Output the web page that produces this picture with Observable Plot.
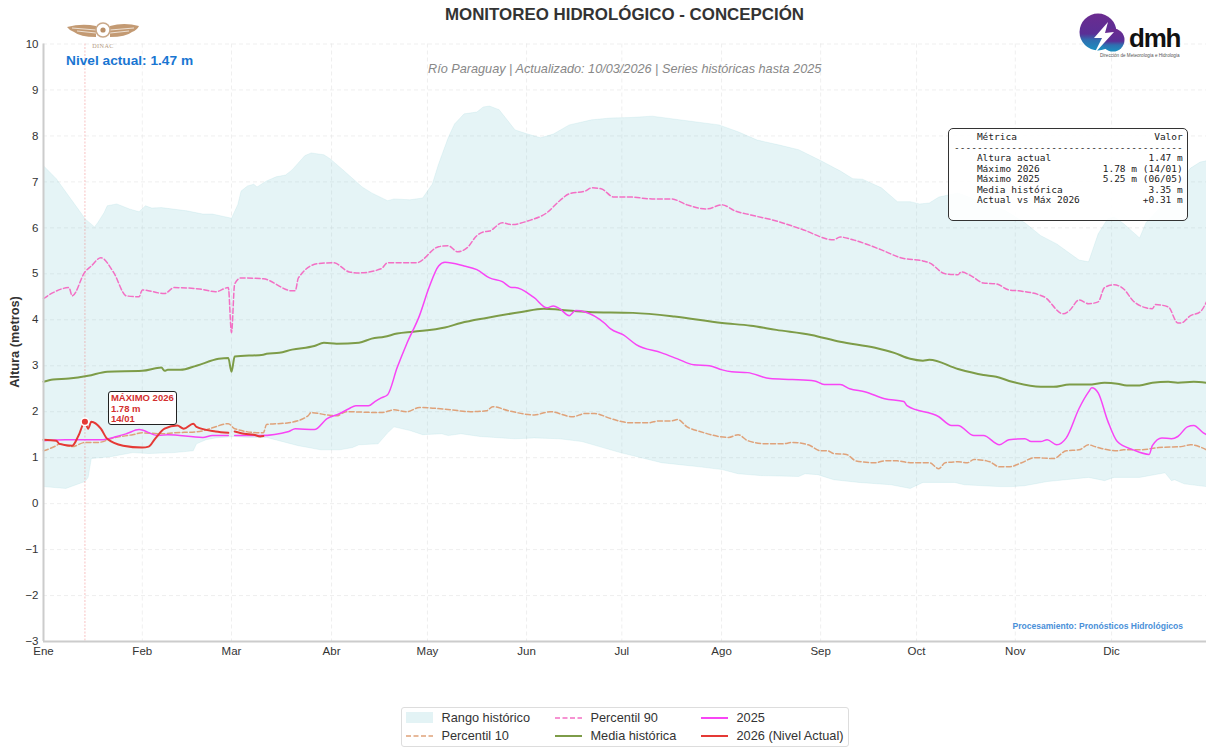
<!DOCTYPE html>
<html lang="es">
<head>
<meta charset="utf-8">
<title>Monitoreo hidrológico - Concepción</title>
<script src="https://cdn.jsdelivr.net/npm/d3@7"></script>
<script src="https://cdn.jsdelivr.net/npm/@observablehq/plot@0.6"></script>
<style>
html,body{margin:0;padding:0;background:#fff;overflow:hidden}
#page{position:relative;width:1206px;height:749px;font-family:"Liberation Sans",Arial,sans-serif;color:#333}
#page svg{display:block}
.abs{position:absolute;white-space:nowrap}
#title{left:0;width:1249px;top:5px;text-align:center;font-weight:700;font-size:16.9px;line-height:20px;color:#333}
#subtitle{left:428px;top:61px;font-style:italic;font-size:12.7px;line-height:16px;color:#888}
#nivel{left:66px;top:52px;font-weight:700;font-size:13.7px;line-height:17px;color:#1976d2}
#ylabel{left:15px;top:342px;font-weight:700;font-size:12.8px;line-height:14px;transform:translate(-50%,-50%) rotate(-90deg)}
#proc{right:23px;top:621px;font-weight:700;font-size:8.55px;line-height:10px;color:#4a90d9}
#table{left:948px;top:127.5px;width:238px;height:91.5px;border:1.5px solid #333;border-radius:5px;background:rgba(255,255,255,.88);box-sizing:content-box}
#table pre{margin:0;position:absolute;left:5px;top:3.5px;font-family:"DejaVu Sans Mono",monospace;font-size:9.5px;line-height:10.55px;color:#222}
#maxbox{width:69px;height:34px;box-sizing:border-box;border:1px solid #222;border-radius:3px;background:#fff;color:#d32f2f;font-weight:700;font-size:9.5px;line-height:10.3px;padding:1px 0 0 2px}
#legend{left:400.5px;top:707px;width:448px;height:40px;box-sizing:border-box;border:1px solid #ddd;border-radius:3px;background:#fff;font-size:12.75px;color:#333}
.lg{position:absolute;height:18px;line-height:18px}
.lg svg{position:absolute;left:0;top:0}
.lg span{position:absolute;left:36px;top:0;white-space:nowrap}
</style>
</head>
<body>
<div id="page"></div>
<script>
// Month axis
const monthStarts = [0,31,59,90.4,120.5,151.6,181.5,212.8,243.9,274,305,335.2];
const monthLabels = ["Ene","Feb","Mar","Abr","May","Jun","Jul","Ago","Sep","Oct","Nov","Dic"];
const yTicks = [-3,-2,-1,0,1,2,3,4,5,6,7,8,9,10];

// Historical range, upper edge
const maxDays = [0,4,12,13,16,17,19,20,23,27,30,32,34,37,45,50,53,59,61,62,64,66,67,70,73,76,78,82,84,88,90,94,100,103,108,110,115,119,121,122,124,127,129,132,136,138,140,143,148,152,156,160,165,172,178,184,191,202,212,218,224,231,237,244,250,254,257,263,268,272,275,278,281,287,302,308,313,318,325,328,331,334,336,339,344,346,353,360,363,365];
const maxVals = [7.35,7.07,6.30,6.2,6.02,6.11,6.33,6.48,6.52,6.41,6.35,6.48,6.43,6.44,6.37,6.30,6.30,6.21,6.51,6.80,6.91,6.95,6.89,7.02,7.11,7.15,7.26,7.57,7.63,7.59,7.50,7.26,6.89,6.76,6.59,6.63,6.61,6.65,6.85,6.95,7.39,7.96,8.26,8.48,8.52,8.63,8.65,8.57,8.13,8.04,7.96,8.04,8.24,8.35,8.39,8.40,8.43,8.33,8.24,8.09,7.91,7.80,7.70,7.46,7.24,7.07,7.06,6.87,6.57,6.57,6.52,6.54,6.67,6.76,6.37,6.11,5.83,5.65,5.30,5.26,5.87,6.20,6.24,6.09,5.78,6.11,6.63,7.30,7.43,7.46];

// Historical range, lower edge
const minDays = [0,7,13,14,15,21,28,33,41,47,48,51,54,60,64,70,80,87,93,97,99,105,108,110,115,119,125,127,131,137,148,154,162,169,181,194,202,206,213,218,225,237,239,243,248,256,266,272,276,286,289,300,304,308,315,328,333,336,344,352,354,355,358,365];
const minVals = [.37,.33,.48,.57,.98,1.02,1.11,1.09,1.11,1.15,1.30,1.39,1.43,1.46,1.44,1.44,1.26,1.17,1.17,1.22,1.28,1.30,1.54,1.67,1.59,1.50,1.52,1.48,1.52,1.46,1.41,1.43,1.41,1.35,1.11,.89,.83,.80,.74,.65,.61,.59,.65,.63,.52,.46,.41,.33,.46,.46,.41,.37,.37,.39,.48,.57,.50,.57,.57,.67,.50,.52,.43,.37];

// Percentil 90
const p90Days = [0,3,8,9,13,15,18,22,26,30,31,38,41,49,54,58,59,60,62,69,78,79,80,86,91,96,99,106,108,117,124,127,130,133,136,138,140,144,147,152,158,162,165,170,172,175,179,184,191,197,202,208,213,217,222,230,238,248,250,254,263,269,276,278,283,287,288,291,295,299,303,306,314,320,322,325,328,331,333,336,339,342,346,348,349,353,356,357,360,363,365];
const p90Vals = [4.46,4.59,4.70,4.52,5.04,5.17,5.35,5.03,4.52,4.50,4.65,4.57,4.70,4.67,4.61,4.70,3.72,4.78,4.91,4.89,4.63,4.63,4.91,5.22,5.24,5.04,5.02,5.11,5.24,5.24,5.59,5.61,5.48,5.57,5.83,5.91,5.93,6.11,6.07,6.15,6.33,6.59,6.74,6.80,6.87,6.85,6.67,6.67,6.63,6.63,6.50,6.41,6.50,6.37,6.28,6.15,5.97,5.74,5.80,5.74,5.52,5.35,5.28,5.24,5.00,4.98,5.04,4.96,4.80,4.78,4.65,4.63,4.50,4.13,4.20,4.43,4.35,4.39,4.70,4.76,4.67,4.41,4.26,4.24,4.33,4.28,3.93,3.93,4.09,4.17,4.39];

// Percentil 10
const p10Days = [0,4,5,9,13,17,22,28,31,37,41,49,53,58,60,68,69,70,77,83,84,89,92,95,106,110,114,118,128,134,139,141,146,154,159,166,170,173,178,184,190,193,197,199,202,206,215,218,221,227,232,235,240,244,246,248,252,255,261,264,268,272,278,281,283,287,290,292,296,297,300,303,307,311,317,321,325,328,330,332,337,339,344,350,357,360,365];
const p10Vals = [1.15,1.26,1.30,1.24,1.33,1.33,1.43,1.50,1.54,1.52,1.54,1.57,1.65,1.74,1.63,1.54,1.54,1.72,1.76,1.91,1.98,1.93,1.91,2.00,1.98,2.04,2.00,2.09,2.04,2.00,2.02,2.11,2.02,1.93,2.00,1.89,1.96,1.96,1.85,1.76,1.76,1.80,1.80,1.83,1.67,1.57,1.44,1.50,1.37,1.30,1.30,1.33,1.28,1.15,1.15,1.09,1.07,.93,.89,.93,.93,.89,.89,.76,.89,.91,.89,.96,.93,.91,.80,.80,.89,1.00,.98,1.15,1.17,1.28,1.24,1.20,1.15,1.17,1.17,1.22,1.24,1.28,1.17];

// Media histórica
const meanDays = [0,3,8,14,20,31,37,38,39,43,48,55,58,59,60,69,70,74,78,85,88,92,99,103,107,111,116,126,131,139,150,157,162,171,185,198,213,222,230,241,250,261,267,272,276,278,287,295,299,304,313,317,322,328,333,337,340,344,348,353,356,361,365];
const meanVals = [2.65,2.70,2.72,2.78,2.87,2.89,2.96,2.89,2.91,2.91,3.00,3.15,3.17,2.87,3.20,3.24,3.26,3.28,3.35,3.43,3.50,3.48,3.50,3.59,3.63,3.70,3.74,3.83,3.93,4.04,4.17,4.24,4.22,4.17,4.15,4.07,3.93,3.87,3.78,3.67,3.52,3.39,3.28,3.15,3.11,3.13,2.93,2.80,2.76,2.65,2.54,2.54,2.59,2.59,2.63,2.61,2.57,2.57,2.63,2.65,2.63,2.65,2.63];

// Year 2025 (no reading on the leap-day slot)
const y2025Days = [0,7,18,23,26,30,36,39,50,53,58,59,60,68,77,79,85,89,93,96,98,102,104,106,108,111,114,118,121,124,126,132,136,140,144,147,148,154,158,160,162,165,167,170,176,178,182,186,194,199,204,209,213,216,221,228,235,242,245,250,253,258,264,270,271,281,285,287,292,295,300,303,308,310,313,315,318,321,325,328,329,331,334,337,342,347,348,351,354,356,359,361,364,365];
const y2025Vals = [1.37,1.39,1.39,1.46,1.52,1.61,1.48,1.50,1.44,1.48,1.48,NaN,1.48,1.48,1.57,1.63,1.61,1.85,1.96,2.07,2.13,2.13,2.22,2.30,2.37,2.96,3.48,4.09,4.70,5.17,5.25,5.17,5.09,4.91,4.83,4.70,4.70,4.48,4.26,4.30,4.24,4.09,4.20,4.17,3.93,3.80,3.67,3.46,3.28,3.15,3.02,3.00,2.91,2.87,2.85,2.72,2.70,2.67,2.59,2.59,2.50,2.43,2.28,2.22,2.13,1.89,1.70,1.70,1.48,1.48,1.28,1.39,1.41,1.35,1.35,1.39,1.28,1.43,2.07,2.43,2.52,2.41,1.80,1.35,1.17,1.07,1.26,1.43,1.41,1.46,1.67,1.70,1.54,1.50];

// Year 2026
const y2026Days = [0,4,5,9,11,13,14,15,18,20,25,31,33,35,38,42,44,47,48,54,58,59,60,63,66,68,69];
const y2026Vals = [1.39,1.37,1.30,1.26,1.48,1.78,1.63,1.78,1.63,1.41,1.26,1.22,1.24,1.41,1.63,1.70,1.63,1.74,1.67,1.57,1.54,NaN,1.57,1.52,1.50,1.46,1.47];

// Peak and stats table
const peakDay = [13];
const peakVal = [1.78];
const peakLabel = ["MÁXIMO 2026","1.78 m","14/01"];
const metricNames = ["Altura actual","Máximo 2026","Máximo 2025","Media histórica","Actual vs Máx 2026"];
const metricVals = ["1.47 m","1.78 m (14/01)","5.25 m (06/05)","3.35 m","+0.31 m"];

const C = {band:"#7fcad2", p10:"#dfa27a", p90:"#f36fc4", mean:"#7d9c48", y25:"#f845f5", y26:"#e53935"};

const pairs = (xs, ys) => xs.map((d,i) => ({d, v:ys[i]}));
const bandOutline = [...pairs(maxDays,maxVals), ...pairs(minDays,minVals).reverse()];
const smooth = "monotone-x";

const plot = Plot.plot({
  width:1206, height:670,
  marginLeft:43, marginRight:0, marginTop:43.5, marginBottom:29,
  x:{domain:[0,365], label:null},
  y:{domain:[-3,10], label:null},
  style:{fontFamily:'"Liberation Sans",Arial,sans-serif', fontSize:"11.5px", color:"#333", background:"#fff"},
  marks:[
    Plot.gridX(monthStarts.slice(1), {stroke:"#e4e4e4", strokeOpacity:.6, strokeDasharray:"4,3"}),
    Plot.gridY(yTicks, {stroke:"#e4e4e4", strokeOpacity:.6, strokeDasharray:"4,3"}),
    Plot.line(bandOutline, {x:"d", y:"v", fill:C.band, fillOpacity:.2, stroke:C.band, strokeOpacity:.15, strokeWidth:1}),
    Plot.ruleX(peakDay, {stroke:"#ee6f6c", strokeOpacity:.6, strokeWidth:.7, strokeDasharray:"2,1.5"}),
    Plot.line(pairs(p10Days,p10Vals), {x:"d", y:"v", curve:smooth, stroke:C.p10, strokeWidth:1.5, strokeDasharray:"5,2.5"}),
    Plot.line(pairs(p90Days,p90Vals), {x:"d", y:"v", curve:smooth, stroke:C.p90, strokeWidth:1.5, strokeDasharray:"5,2.5"}),
    Plot.line(pairs(meanDays,meanVals), {x:"d", y:"v", curve:smooth, stroke:C.mean, strokeWidth:2}),
    Plot.line(pairs(y2025Days,y2025Vals), {x:"d", y:"v", curve:smooth, stroke:C.y25, strokeWidth:1.5}),
    Plot.line(pairs(y2026Days,y2026Vals), {x:"d", y:"v", curve:smooth, stroke:C.y26, strokeWidth:2}),
    Plot.dot(peakDay.map((d,i)=>({d,v:peakVal[i]})), {x:"d", y:"v", r:3.8, fill:C.y26, stroke:"#fff", strokeWidth:1.5}),
    Plot.ruleX([0], {stroke:"#ccc", strokeWidth:2}),
    Plot.ruleY([-3], {stroke:"#ccc", strokeWidth:2}),
    Plot.axisY(yTicks, {tickSize:0, tickPadding:5, label:null, color:"#333"}),
    Plot.axisX(monthStarts, {tickSize:0, tickPadding:5, label:null, color:"#333",
      tickFormat:d => monthLabels[monthStarts.indexOf(d)]})
  ]
});

const page = document.getElementById("page");
page.appendChild(plot);

function addDiv(id, text){
  const el = document.createElement("div");
  el.id = id; el.className = "abs"; if(text != null) el.textContent = text;
  page.appendChild(el); return el;
}
addDiv("title","MONITOREO HIDROLÓGICO - CONCEPCIÓN");
addDiv("subtitle","Río Paraguay | Actualizado: 10/03/2026 | Series históricas hasta 2025");
addDiv("nivel","Nivel actual: 1.47 m");
addDiv("ylabel","Altura (metros)");
addDiv("proc","Procesamiento: Pronósticos Hidrológicos");

// Peak annotation, anchored on the scales
const box = addDiv("maxbox");
box.innerHTML = peakLabel.join("<br>");
box.style.left = (plot.scale("x").apply(peakDay[0]) + 23.5) + "px";
box.style.top = (plot.scale("y").apply(peakVal[0]) - 30) + "px";

// Stats table (fixed-width text, 40 columns)
const W = 40;
const row = (a,b) => ("    " + a).padEnd(W - b.length) + b;
const tbl = addDiv("table");
const pre = document.createElement("pre");
pre.textContent = [row("Métrica","Valor"), "-".repeat(W), ...metricNames.map((m,i)=>row(m,metricVals[i]))].join("\n");
tbl.appendChild(pre);

// Legend
const legendItems = [
  ["Rango histórico","band",4,0],["Percentil 10","p10",4,1],
  ["Percentil 90","p90",153,0],["Media histórica","mean",153,1],
  ["2025","y25",299,0],["2026 (Nivel Actual)","y26",299,1]
];
const lg = addDiv("legend");
legendItems.forEach(([t,k,l,r])=>{
  const it = document.createElement("div");
  it.className = "lg"; it.style.left = l + "px"; it.style.top = (1 + r*18) + "px";
  const g = k==="band" ? `<rect x="0" y="3" width="27" height="11" fill="${C.band}" fill-opacity=".22"/>`
    : `<line x1="0" x2="27" y1="9" y2="9" stroke="${C[k]}" stroke-width="${(k==="p10"||k==="p90")?1.5:2}" ${(k==="p10"||k==="p90")?'stroke-dasharray="5,2.5"':''}/>`;
  it.innerHTML = `<svg width="27" height="18">${g}</svg><span>${t}</span>`;
  lg.appendChild(it);
});

// Logos
const dinac = addDiv("dinac");
dinac.style.cssText = "left:60px;top:18px";
dinac.innerHTML = `<svg width="86" height="32" viewBox="0 0 86 32">
<g fill="#c39a73"><path d="M7 9 Q22 5 36 8 L36 19 Q20 19 14 14 Q9 12 7 9Z"/><path d="M79 8 Q64 4 50 8 L50 19 Q66 19 72 14 Q77 12 79 8Z"/></g>
<g stroke="#fff" stroke-width=".7"><path d="M12 10 L36 12 M17 13 L36 15"/><path d="M74 10 L50 12 M69 13 L50 15"/></g>
<circle cx="43" cy="12" r="7" fill="#fff" stroke="#c9a889" stroke-width="1.6"/><circle cx="43" cy="12" r="2.6" fill="#b98f68"/>
<text x="43" y="29.5" text-anchor="middle" font-family="Liberation Serif,serif" font-size="6.2" fill="#b49a84" letter-spacing=".4">DINAC</text></svg>`;

const dmh = addDiv("dmh");
dmh.style.cssText = "left:1075px;top:10px";
dmh.innerHTML = `<svg width="112" height="52" viewBox="0 0 112 52">
<defs><linearGradient id="dg" x1="0" y1="0" x2="0" y2="1"><stop offset="0" stop-color="#6b2b8f"/><stop offset=".55" stop-color="#5a2f96"/><stop offset=".72" stop-color="#2f6fb0"/><stop offset="1" stop-color="#1b8fc0"/></linearGradient></defs>
<circle cx="23" cy="22" r="18.5" fill="url(#dg)"/><circle cx="38" cy="30" r="11.5" fill="url(#dg)"/>
<path d="M33 12 L19 28 L27 28 L19 44 L39 22 L30 23 Z" fill="#fff"/>
<text x="54" y="37" font-family="Liberation Sans,sans-serif" font-weight="700" font-size="26" letter-spacing="-1.2" fill="#111">dmh</text>
<text x="25" y="47" font-family="Liberation Sans,sans-serif" font-size="4.6" fill="#555">Dirección de Meteorología e Hidrología</text></svg>`;
</script>
</body>
</html>
